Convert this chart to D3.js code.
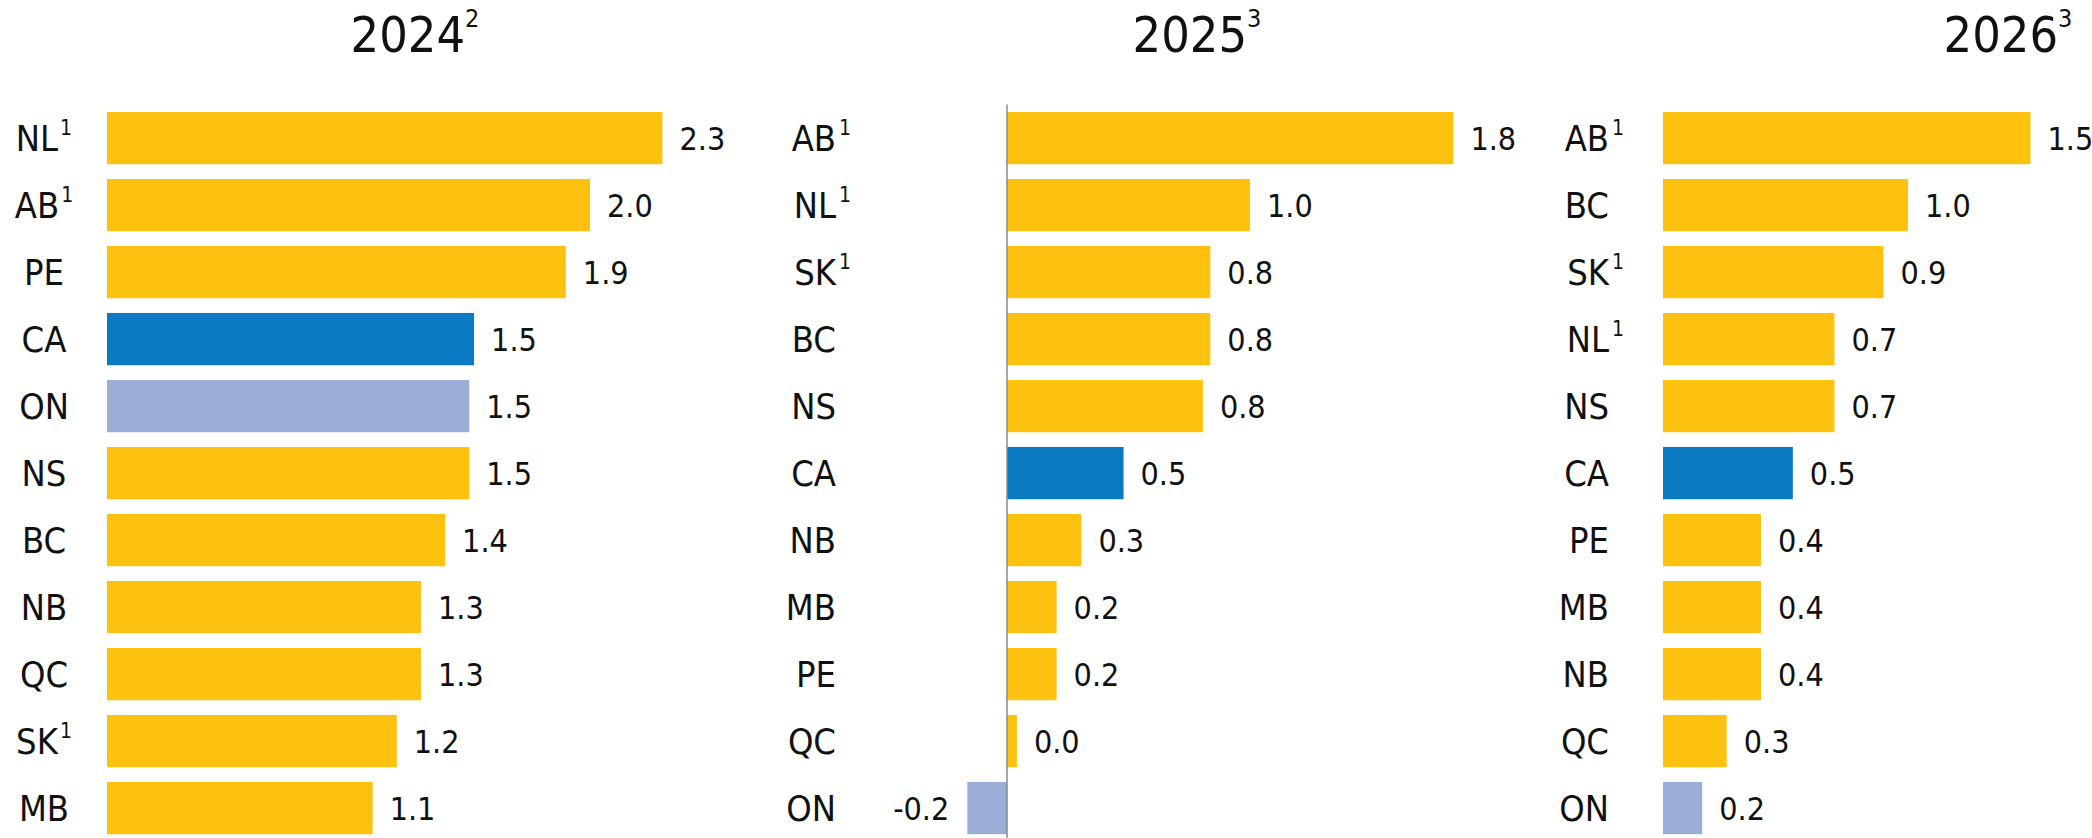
<!DOCTYPE html>
<html lang="en">
	<head>
		<meta charset="utf-8">
		<title>Provincial growth</title>
		<script src="https://d3js.org/d3.v7.min.js"></script>
		<style>
			body { margin: 0; background: #fff; }
			text { font-family: "Liberation Sans Narrow", "DejaVu Sans Condensed", sans-serif; fill: #111; }
		</style>
	</head>
	<body>
		<div id="chart"></div>
		<script>
			// panel titles and their footnote marks
			var years = ["2024", "2025", "2026"];
			var yearNotes = ["2", "3", "3"];

			// categories per panel, top to bottom
			var cats2024 = ["NL", "AB", "PE", "CA", "ON", "NS", "BC", "NB", "QC", "SK", "MB"];
			var vals2024 = [2.3, 2.0, 1.9, 1.52, 1.5, 1.5, 1.4, 1.3, 1.3, 1.2, 1.1];

			var cats2025 = ["AB", "NL", "SK", "BC", "NS", "CA", "NB", "MB", "PE", "QC", "ON"];
			var vals2025 = [1.8, 0.98, 0.82, 0.82, 0.79, 0.47, 0.3, 0.2, 0.2, 0.04, -0.16];

			var cats2026 = ["AB", "BC", "SK", "NL", "NS", "CA", "PE", "MB", "NB", "QC", "ON"];
			var vals2026 = [1.5, 1.0, 0.9, 0.7, 0.7, 0.53, 0.4, 0.4, 0.4, 0.26, 0.16];

			// provinces that carry footnote 1
			var noted = ["NL", "AB", "SK"];

			var width = 2092;
			var height = 838;

			var svg = d3.select("#chart").append("svg")
					.attr("width", width)
					.attr("height", height);

			var fmt = function(v) { return d3.format(".1f")(v).replace("\u2212", "-"); };

			function colour(c) {
				if (c === "CA") return "#0a7bc2";
				if (c === "ON") return "#9caed8";
				return "#fdc20f";
			}

			// layout of each panel: bar zero, pixel per unit, label position
			var panels = [
				{ cats: cats2024, vals: vals2024, x0: 107, k: 241.5, labelX: 44, labelAnchor: "middle", titleX: 415, axis: false },
				{ cats: cats2025, vals: vals2025, x0: 1007, k: 248, labelX: 836, labelAnchor: "end", titleX: 1197, axis: true },
				{ cats: cats2026, vals: vals2026, x0: 1663, k: 245, labelX: 1609, labelAnchor: "end", titleX: 2008, axis: false }
			];

			panels.forEach(function(p, pi) {
				var g = svg.append("g");

				var y = d3.scaleBand()
						.domain(p.cats)
						.range([104.6, 841.6])
						.paddingInner(0.22)
						.paddingOuter(0.11);

				var ext = d3.extent(p.vals.concat([0]));
				var x = d3.scaleLinear()
						.domain(ext)
						.range([p.x0 + ext[0] * p.k, p.x0 + ext[1] * p.k]);

				// title
				var t = g.append("text")
						.attr("x", p.titleX)
						.attr("y", 52)
						.attr("text-anchor", "middle")
						.style("font-size", "50px");
				t.append("tspan").text(years[pi]);
				t.append("tspan")
						.attr("dy", -25)
						.style("font-size", "25px")
						.text(yearNotes[pi]);

				var rows = p.cats.map(function(c, i) { return { cat: c, val: p.vals[i] }; });

				g.selectAll("rect")
						.data(rows)
						.enter()
						.append("rect")
						.attr("x", function(d) { return x(Math.min(0, d.val)); })
						.attr("y", function(d) { return y(d.cat); })
						.attr("width", function(d) { return Math.abs(x(d.val) - x(0)); })
						.attr("height", y.bandwidth())
						.style("fill", function(d) { return colour(d.cat); });

				if (p.axis) {
					g.append("line")
							.attr("x1", x(0)).attr("x2", x(0))
							.attr("y1", y.range()[0]).attr("y2", height)
							.style("stroke", "#8a8a8a")
							.style("stroke-width", 1.5);
				}

				// category labels
				var lab = g.selectAll("text.cat")
						.data(rows)
						.enter()
						.append("text")
						.attr("class", "cat")
						.attr("x", p.labelX)
						.attr("y", function(d) { return y(d.cat) + y.bandwidth() / 2 + 13; })
						.attr("text-anchor", p.labelAnchor)
						.style("font-size", "36px");
				lab.append("tspan").text(function(d) { return d.cat; });

				// footnote marks
				if (p.labelAnchor === "middle") {
					lab.filter(function(d) { return noted.indexOf(d.cat) >= 0; })
							.append("tspan")
							.attr("dx", 2)
							.attr("dy", -16)
							.style("font-size", "21px")
							.text("1");
				} else {
					g.selectAll("text.note")
							.data(rows.filter(function(d) { return noted.indexOf(d.cat) >= 0; }))
							.enter()
							.append("text")
							.attr("class", "note")
							.attr("x", p.labelX + 3)
							.attr("y", function(d) { return y(d.cat) + y.bandwidth() / 2 - 3; })
							.style("font-size", "21px")
							.text("1");
				}

				// value labels
				g.selectAll("text.val")
						.data(rows)
						.enter()
						.append("text")
						.attr("class", "val")
						.attr("x", function(d) { return d.val < 0 ? x(d.val) - 18 : x(d.val) + 17; })
						.attr("y", function(d) { return y(d.cat) + y.bandwidth() / 2 + 12; })
						.attr("text-anchor", function(d) { return d.val < 0 ? "end" : "start"; })
						.style("font-size", "32px")
						.text(function(d) { return fmt(d.val); });
			});
		</script>
	</body>
</html>
